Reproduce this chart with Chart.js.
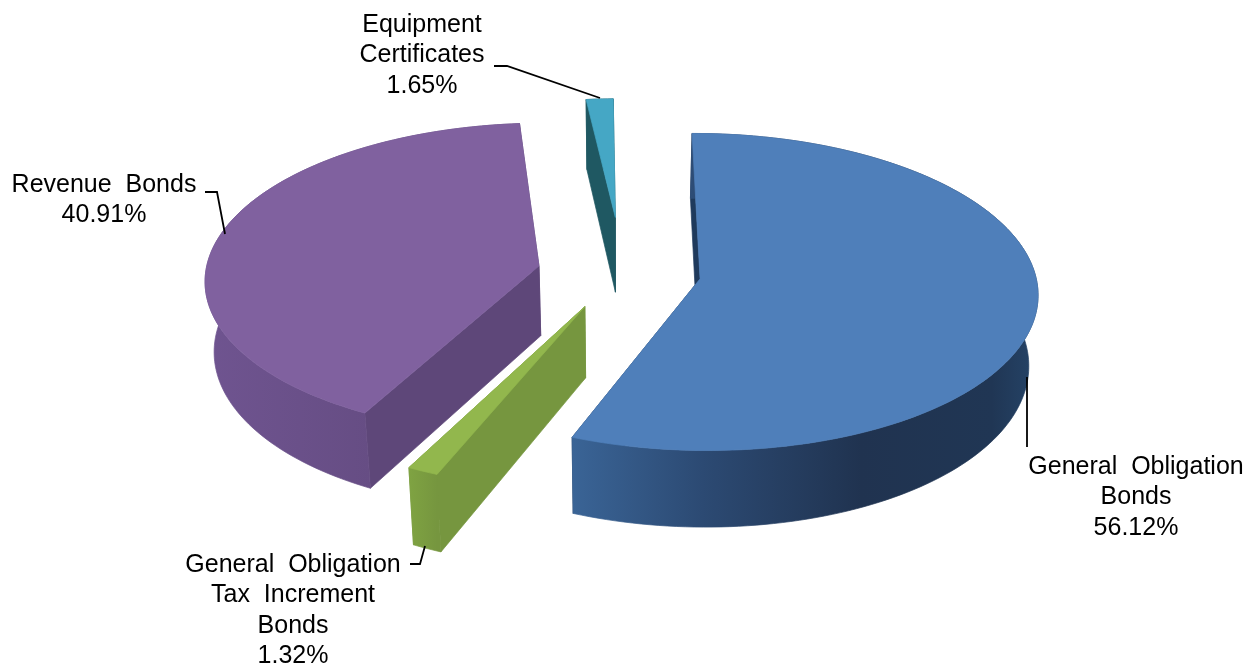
<!DOCTYPE html>
<html lang="en">
<head>
    <meta charset="UTF-8">
    <title>Bond types</title>
    <style>
        html, body { margin: 0; padding: 0; background: #ffffff; }
        canvas { display: block; }
    </style>
    <script src="https://cdn.jsdelivr.net/npm/chart.js"></script>
</head>
<body>
    <canvas id="bondChart" width="1253" height="668"></canvas>

    <script>
        var categories = ["General Obligation Bonds", "General Obligation Tax Increment Bonds", "Revenue Bonds", "Equipment Certificates"];
        var values = [56.12, 1.32, 40.91, 1.65];
        var labelLines = [["General  Obligation", "Bonds"], ["General  Obligation", "Tax  Increment", "Bonds"], ["Revenue  Bonds"], ["Equipment", "Certificates"]];

        // explosion of each slice, chart pixels
        var explode = [71, 67, 67, 102];
        var topColors = ["#4f7fba", "#92b74d", "#80619f", "#45a7c5"];
        var cutColors = ["#1f3a5c", "#76963f", "#5e4779", "#1f5862"];
        var wallStops = [
            [[0, "#3a6496"], [0.28, "#2c4a73"], [0.62, "#203350"], [0.9, "#203654"], [1, "#254468"]],
            [[0, "#7fa342"], [1, "#76963f"]],
            [[0, "#6f5490"], [1, "#5e4779"]],
            [[0, "#1f5862"], [1, "#1f5862"]]
        ];
        // small per slice corrections for the perspective of the original
        var sliceTurn = [0.7, 1.3, 2.2, 0.5];
        var sliceReach = [1, 1.03, 0.995, 0.86];
        var sliceSlide = [0, 0, 0, 0.02];
        var sliceDepth = [1, 1, 1, 1.1];

        var labelPos = [
            { x: 1136, y: 474 },
            { x: 293, y: 572 },
            { x: 104, y: 192 },
            { x: 422, y: 32 }
        ];
        var leaders = [
            [[1027, 377], [1027, 447]],
            [[410, 564], [420, 564], [425, 546]],
            [[205, 192], [217, 192], [225, 234]],
            [[494, 66], [507, 66], [600, 98]]
        ];

        var view = { cx: 617, cy: 272, a: 335, b: 156.3, k: 0.0826, depth: 70, shrink: 0.022 };

        function project(u, v, z) {
            var s = 1 / (1 - view.k * v);
            return {
                x: view.cx + view.a * u * s * (1 - view.shrink * z),
                y: view.cy + (view.b * v + view.depth * z) * s
            };
        }

        function fillPath(ctx, pts, fill) {
            ctx.beginPath();
            pts.forEach(function (p, i) {
                if (i == 0) ctx.moveTo(p.x, p.y); else ctx.lineTo(p.x, p.y);
            });
            ctx.closePath();
            ctx.fillStyle = fill;
            ctx.fill();
            // hairline in the same paint closes the seams between faces
            ctx.strokeStyle = fill;
            ctx.lineWidth = 0.7;
            ctx.stroke();
        }

        // paints one slice from the geometry of its Chart.js arc element
        function drawSlice(ctx, arc, i) {
            var mid = (arc.startAngle + arc.endAngle) / 2;
            var off = explode[i] / arc.outerRadius;
            var ou = Math.cos(mid) * off + sliceSlide[i];
            var ov = Math.sin(mid) * off;
            var turn = sliceTurn[i] * Math.PI / 180;
            var start = arc.startAngle + turn;
            var end = arc.endAngle + turn;
            var z = sliceDepth[i];
            var n = Math.max(2, Math.ceil((end - start) * 40));
            var rim = [];
            for (var j = 0; j <= n; j++) {
                var t = start + (end - start) * j / n;
                rim.push([ou + sliceReach[i] * Math.cos(t), ov + sliceReach[i] * Math.sin(t)]);
            }
            var first = rim[0];
            var last = rim[n];

            fillPath(ctx, [project(ou, ov, 0), project(last[0], last[1], 0), project(last[0], last[1], z), project(ou, ov, z)], cutColors[i]);
            fillPath(ctx, [project(ou, ov, 0), project(first[0], first[1], 0), project(first[0], first[1], z), project(ou, ov, z)], cutColors[i]);

            var upper = rim.map(function (r) { return project(r[0], r[1], 0); });
            var lower = rim.map(function (r) { return project(r[0], r[1], z); }).reverse();
            var xs = upper.map(function (p) { return p.x; });
            var grad = ctx.createLinearGradient(Math.min.apply(null, xs), 0, Math.max.apply(null, xs), 0);
            wallStops[i].forEach(function (s) { grad.addColorStop(s[0], s[1]); });
            fillPath(ctx, upper.concat(lower), grad);

            fillPath(ctx, [project(ou, ov, 0)].concat(upper), topColors[i]);
        }

        var pie3d = {
            id: "pie3d",
            beforeDatasetsDraw: function (chart) {
                var ctx = chart.ctx;
                var arcs = chart.getDatasetMeta(0).data;
                ctx.save();
                [3, 2, 0, 1].forEach(function (i) { drawSlice(ctx, arcs[i], i); });
                ctx.restore();
                return false;
            },
            afterDraw: function (chart) {
                var ctx = chart.ctx;
                ctx.save();
                ctx.strokeStyle = "#000000";
                ctx.lineWidth = 1.8;
                leaders.forEach(function (line) {
                    ctx.beginPath();
                    line.forEach(function (p, i) {
                        if (i == 0) ctx.moveTo(p[0], p[1]); else ctx.lineTo(p[0], p[1]);
                    });
                    ctx.stroke();
                });
                ctx.fillStyle = "#000000";
                ctx.font = "25px 'Liberation Sans'";
                ctx.textAlign = "center";
                ctx.textBaseline = "alphabetic";
                values.forEach(function (v, i) {
                    var lines = labelLines[i].concat([v.toFixed(2) + "%"]);
                    lines.forEach(function (text, k) {
                        ctx.fillText(text, labelPos[i].x, labelPos[i].y + k * 30.3);
                    });
                });
                ctx.restore();
            }
        };

        new Chart(document.getElementById("bondChart"), {
            type: "pie",
            data: {
                labels: categories,
                datasets: [{
                    data: values,
                    backgroundColor: topColors,
                    borderWidth: 0,
                    offset: explode
                }]
            },
            options: {
                responsive: false,
                animation: false,
                rotation: -1,
                plugins: {
                    legend: { display: false },
                    tooltip: { enabled: false }
                }
            },
            plugins: [pie3d]
        });
    </script>
</body>
</html>
